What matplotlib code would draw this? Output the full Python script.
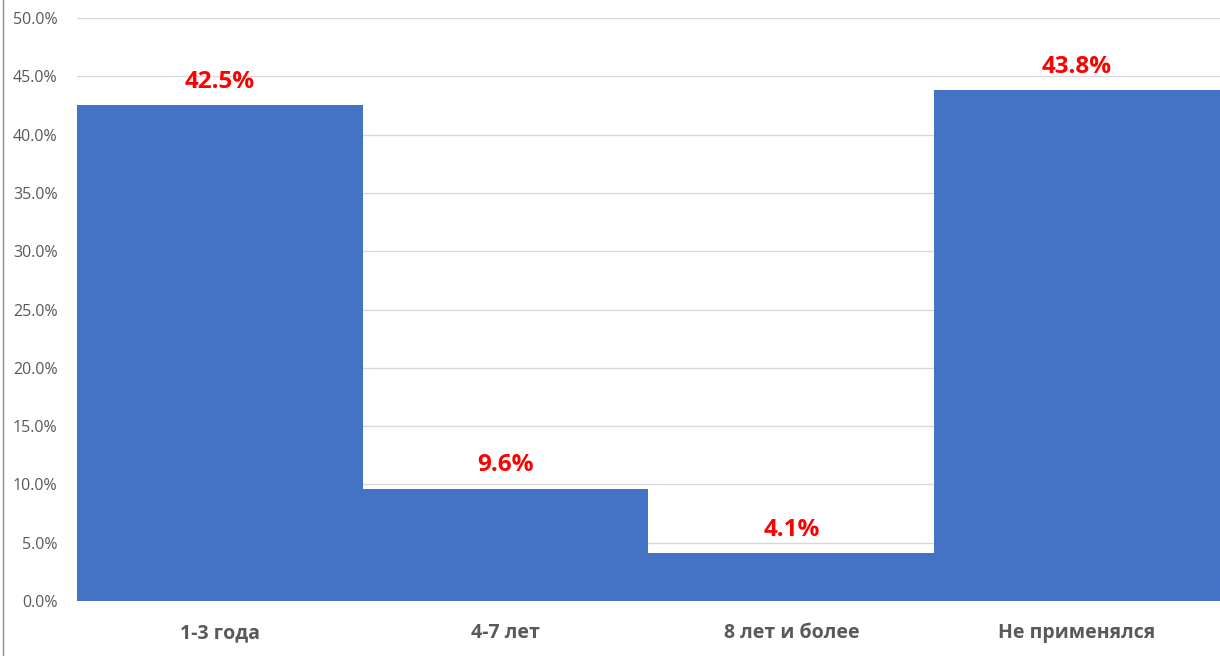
import matplotlib.pyplot as plt
from matplotlib.lines import Line2D
from matplotlib.ticker import FuncFormatter, MultipleLocator

categories = ['1-3 года', '4-7 лет', '8 лет и более', 'Не применялся']
values = [42.5, 9.6, 4.1, 43.8]

plt.rcParams['font.family'] = ['Open Sans', 'DejaVu Sans']

fig = plt.figure(figsize=(12.2, 6.56), dpi=100)
ax = fig.add_axes([0.0631, 0.0838, 0.9369, 0.8888])

x = range(len(categories))
ax.bar(x, values, width=1.0, color='#4472C4', zorder=2)
ax.set_xlim(-0.5, len(categories) - 0.5)
ax.set_ylim(0, 50)

ax.yaxis.set_major_locator(MultipleLocator(5))
ax.yaxis.set_major_formatter(FuncFormatter(lambda v, p: f'{v:.1f}%'))
ax.grid(axis='y', color='#d9d9d9', linewidth=1, zorder=0)
ax.set_xticks(list(x))
ax.set_xticklabels(categories, fontsize=14, fontweight='bold', color='#595959')
ax.tick_params(axis='y', labelsize=11.5, labelcolor='#595959', length=0, pad=14)
ax.tick_params(axis='x', length=0, pad=16)
for s in ax.spines.values():
    s.set_visible(False)

for xi, v in zip(x, values):
    ax.annotate(f'{v}%', (xi, v), xytext=(0, 17), textcoords='offset points',
                ha='center', va='center', color='#FF0000', fontsize=17.5,
                fontweight='bold')

# chart frame edge at left
fig.add_artist(Line2D([3 / 1220, 3 / 1220], [0, 1], color='#8c8c8c', linewidth=1,
                      transform=fig.transFigure))

fig.savefig('out.png', dpi=100)
